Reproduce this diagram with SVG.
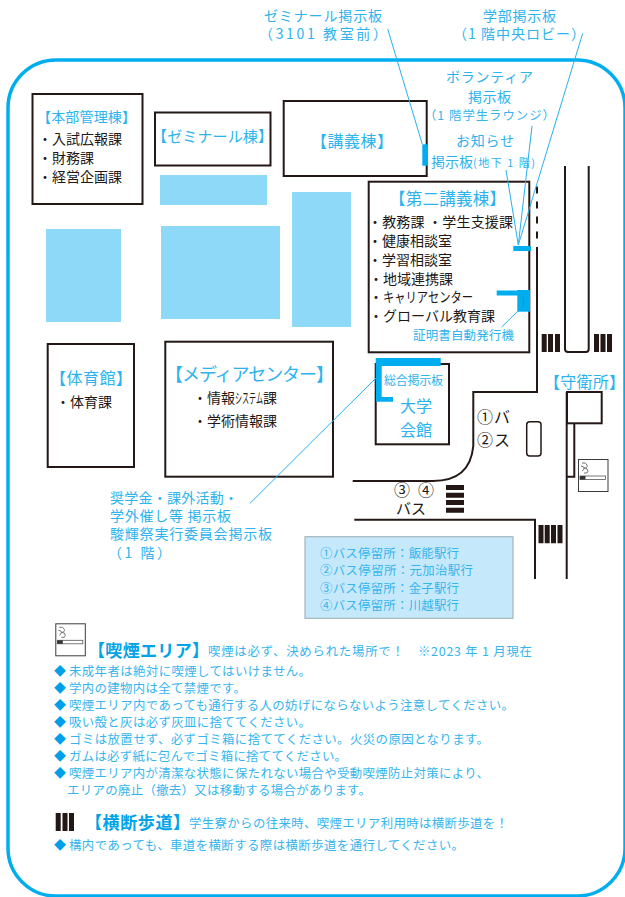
<svg xmlns="http://www.w3.org/2000/svg" xmlns:xlink="http://www.w3.org/1999/xlink" width="625" height="897" viewBox="0 0 625 897">
<style>
text{font-family:"Noto Sans CJK JP","Noto Sans",sans-serif;white-space:pre}
.c{fill:#2db3ee;font-size:14px}
.k{fill:#231815;font-size:14px}
.s{fill:#35b5ee;font-size:12.400px}
.h{fill:#00a3e8;font-size:17px;font-weight:700}
.d{fill:#00a0e9;font-size:12px}
.b{fill:#fff;stroke:#231815;stroke-width:2}
.w{fill:#8ed8f8}
.m{fill:#00aeef}
.r{fill:none;stroke:#231815;stroke-width:2}
.l{fill:none;stroke:#29b0ec;stroke-width:1}
.x{fill:#231815}
</style>
<defs>
<symbol id="smoke" viewBox="0 0 30 33" overflow="visible">
<rect x="0.5" y="0.5" width="29.5" height="32" fill="#fff" stroke="#3a3a3a" stroke-width="1"/>
<rect x="2" y="17" width="25.500" height="3.500" fill="#fff" stroke="#555" stroke-width="0.8"/>
<rect x="2" y="17" width="5.500" height="3.500" fill="#333"/>
<path d="M4 4q4 -1 5 2t-3 3q4 0 4 3t-4 2M3 7q3 0 3 2t-2 3" fill="none" stroke="#777" stroke-width="1"/>
</symbol>
</defs>
<rect width="625" height="897" fill="#fff"/>
<rect id="frame" x="8" y="60" width="617" height="836" rx="48" fill="none" stroke="#00aeef" stroke-width="3.500"/>

<g id="open-areas">
<rect class="w" x="160" y="175" width="107" height="30"/>
<rect class="w" x="46" y="229" width="75" height="93"/>
<rect class="w" x="161" y="226" width="119" height="93"/>
<rect class="w" x="292" y="192" width="59" height="135"/>
</g>

<g id="roads">
<path class="r" d="M537 247V392H473.300V446Q470 481 433 481H352.700"/>
<path class="r" d="M537 186.500V240" stroke-dasharray="7 8"/>
<path class="r" d="M354.300 519.700H535V579"/>
<path class="r" d="M566.700 392V579"/>
<path class="r" d="M565 166V349q0 3 3 3H586q2.700 0 2.700 -3V166"/>
<rect x="526.700" y="421.700" width="14.300" height="34.300" rx="3" fill="#fff" stroke="#231815" stroke-width="1.500"/>
</g>

<g id="crossings">
<path class="x" d="M446 485h18v5h-18zM446 492.700h18v5h-18zM446 500h18v5h-18zM446 507.700h18v5h-18z"/>
<path class="x" d="M538.500 525h5v18.300h-5zM544.700 525h5v18.300h-5zM551 525h5v18.300h-5zM557.500 525h5v18.300h-5z"/>
<path class="x" d="M541.700 334h5v18h-5zM548 334h5v18h-5zM555 334h5v18h-5z"/>
<path class="x" d="M594 334h5v18h-5zM600.500 334h5v18h-5zM607 334h5v18h-5z"/>
</g>

<g id="honbu">
<rect class="b" x="32.500" y="94" width="110" height="110"/>
<text class="c" x="37" y="122" textLength="99">【本部管理棟】</text>
<text class="k" x="38" y="143.700" textLength="84">・入試広報課</text>
<text class="k" x="38" y="163" textLength="56">・財務課</text>
<text class="k" x="38" y="182" textLength="84">・経営企画課</text>
</g>
<g id="seminar">
<rect class="b" x="155" y="112.500" width="115.500" height="53"/>
<text class="c" x="152" y="141.700" style="font-size:15px" textLength="121">【ゼミナール棟】</text>
</g>
<g id="kogi">
<rect class="b" x="283.700" y="101" width="143" height="75"/>
<text class="c" x="311" y="147" style="font-size:16px" textLength="82">【講義棟】</text>
<rect class="m" x="422.300" y="144.300" width="5.700" height="21.400"/>
</g>
<g id="daini">
<rect class="b" x="368.700" y="181.700" width="160.600" height="170.600"/>
<text class="c" x="389" y="205" style="font-size:16.500px" textLength="117">【第二講義棟】</text>
<text class="k" x="368" y="227" textLength="145">・教務課 ・学生支援課</text>
<text class="k" x="368" y="246" textLength="84">・健康相談室</text>
<text class="k" x="368" y="265" textLength="84">・学習相談室</text>
<text class="k" x="369" y="284" textLength="84">・地域連携課</text>
<text class="k" x="369" y="302"><tspan>・</tspan><tspan textLength="90" lengthAdjust="spacingAndGlyphs">キャリアセンター</tspan></text>
<text class="k" x="369" y="321" textLength="126">・グローバル教育課</text>
<text class="c" x="413" y="340" style="font-size:12.500px" textLength="101">証明書自動発行機</text>
<rect class="m" x="513.300" y="246" width="17.700" height="5"/>
<rect class="m" x="496.700" y="290.500" width="22" height="5"/>
<rect class="m" x="517.300" y="290" width="12.700" height="21.700"/>
<path d="M523.300 297V306" stroke="#1c7fa8" stroke-width="0.600"/>
</g>
<g id="gym">
<rect class="b" x="47.700" y="344" width="86.300" height="123"/>
<text class="c" x="50" y="384" style="font-size:16px" textLength="82">【体育館】</text>
<text class="k" x="56" y="407" textLength="56">・体育課</text>
</g>
<g id="media">
<rect class="b" x="165.300" y="341.700" width="167.700" height="135"/>
<text class="c" x="165" y="381" style="font-size:18px" textLength="169">【メディアセンター】</text>
<text class="k" x="193" y="403">・情報<tspan textLength="28" lengthAdjust="spacingAndGlyphs">システム</tspan>課</text>
<text class="k" x="193" y="426" textLength="84">・学術情報課</text>
</g>
<g id="kaikan">
<rect class="b" x="375.700" y="364" width="73.300" height="80.300"/>
<path class="m" d="M375.700 358H440.700V366H381.700V397H393V401.700H376Z"/>
<text class="c" x="384" y="385" style="font-size:12px" textLength="59">総合掲示板</text>
<text class="c" x="400" y="412" style="font-size:16px" textLength="32">大学</text>
<text class="c" x="400" y="436" style="font-size:16px" textLength="32">会館</text>
</g>
<g id="guard">
<rect class="b" x="567" y="392" width="34.700" height="31.300"/>
<path class="r" d="M567 476.700H574.300V423.300"/>
<text class="c" x="544" y="388" style="font-size:16px" textLength="81">【守衛所】</text>
</g>
<use id="smoke-map" xlink:href="#smoke" href="#smoke" x="578" y="459" width="30" height="33"/>

<g id="bus-labels">
<text class="k" x="477" y="422.700" style="font-size:16px" textLength="33">①バ</text>
<text class="k" x="477" y="446" style="font-size:16px" textLength="33">②ス</text>
<text class="k" x="394" y="496" style="font-size:16px" textLength="40">③ ④</text>
<text class="k" x="396" y="514" style="font-size:15px" textLength="30">バス</text>
</g>
<g id="bus-legend">
<rect x="305" y="536.700" width="208" height="81.600" fill="#c5e9fb" stroke="#a5b5bd" stroke-width="1.200"/>
<text class="s" x="320" y="558" textLength="139">①バス停留所：飯能駅行</text>
<text class="s" x="320" y="575" textLength="153">②バス停留所：元加治駅行</text>
<text class="s" x="320" y="592.700" textLength="139">③バス停留所：金子駅行</text>
<text class="s" x="320" y="609.500" textLength="139">④バス停留所：川越駅行</text>
</g>

<g id="connectors">
<path class="l" d="M387.700 29L422.300 144.300"/>
<path class="l" d="M582.700 33.300L518.300 245"/>
<path class="l" d="M532 126L518.300 245"/>
<path class="l" d="M506 170L518.300 245"/>
<path class="l" d="M518 311L501.700 327"/>
<path class="l" d="M250 503.300L376 378"/>
</g>

<g id="board-labels">
<text class="c" x="264" y="21" textLength="118">ゼミナール掲示板</text>
<text class="c" x="259" y="39" textLength="128">（3101 教室前）</text>
<text class="c" x="483" y="21" textLength="73">学部掲示板</text>
<text class="c" x="453" y="39" textLength="132">（1 階中央ロビー）</text>
<text class="c" x="446" y="82" textLength="87">ボランティア</text>
<text class="c" x="468" y="102" textLength="43">掲示板</text>
<text class="s" x="424" y="120" textLength="131">（1 階学生ラウンジ）</text>
<text class="c" x="456" y="146" textLength="58">お知らせ</text>
<text class="c" x="431" y="167">掲示板<tspan style="font-size:11px" textLength="62">(地下 1 階)</tspan></text>
<text class="c" x="110" y="502.700" textLength="128">奨学金・課外活動・</text>
<text class="c" x="110" y="521" textLength="121">学外催し等 掲示板</text>
<text class="c" x="110" y="539" textLength="162">駿輝祭実行委員会掲示板</text>
<text class="c" x="108" y="558" textLength="63">（1 階）</text>
</g>

<g id="smoking-notes">
<use xlink:href="#smoke" href="#smoke" x="55.300" y="623.300" width="30" height="33"/>
<text class="h" x="88" y="656.700" textLength="121">【喫煙エリア】</text>
<text class="s" x="208" y="655.700" textLength="324">喫煙は必ず、決められた場所で！　※2023 年 1 月現在</text>
<text class="d" x="54" y="675.700">◆</text><text class="s" x="69" y="675.700" textLength="242">未成年者は絶対に喫煙してはいけません。</text>
<text class="d" x="54" y="692.700">◆</text><text class="s" x="69" y="692.700" textLength="177">学内の建物内は全て禁煙です。</text>
<text class="d" x="54" y="710">◆</text><text class="s" x="69" y="710" textLength="445">喫煙エリア内であっても通行する人の妨げにならないよう注意してください。</text>
<text class="d" x="54" y="727">◆</text><text class="s" x="69" y="727" textLength="242">吸い殻と灰は必ず灰皿に捨ててください。</text>
<text class="d" x="54" y="744">◆</text><text class="s" x="69" y="744" textLength="420">ゴミは放置せず、必ずゴミ箱に捨ててください。火災の原因となります。</text>
<text class="d" x="54" y="761">◆</text><text class="s" x="69" y="761" textLength="278">ガムは必ず紙に包んでゴミ箱に捨ててください。</text>
<text class="d" x="54" y="778">◆</text><text class="s" x="69" y="778" textLength="420">喫煙エリア内が清潔な状態に保たれない場合や受動喫煙防止対策により、</text>
<text class="s" x="67" y="795" textLength="304">エリアの廃止（撤去）又は移動する場合があります。</text>
</g>
<g id="crossing-notes">
<path class="x" d="M55.700 813h5v18h-5zM62.500 813h5v18h-5zM69 813h5v18h-5z"/>
<text class="h" x="85" y="829" textLength="105">【横断歩道】</text>
<text class="s" x="189" y="828" textLength="319">学生寮からの往来時、喫煙エリア利用時は横断歩道を！</text>
<text class="d" x="54" y="850">◆</text><text class="s" x="69" y="850" textLength="395">構内であっても、車道を横断する際は横断歩道を通行してください。</text>
</g>
</svg>
